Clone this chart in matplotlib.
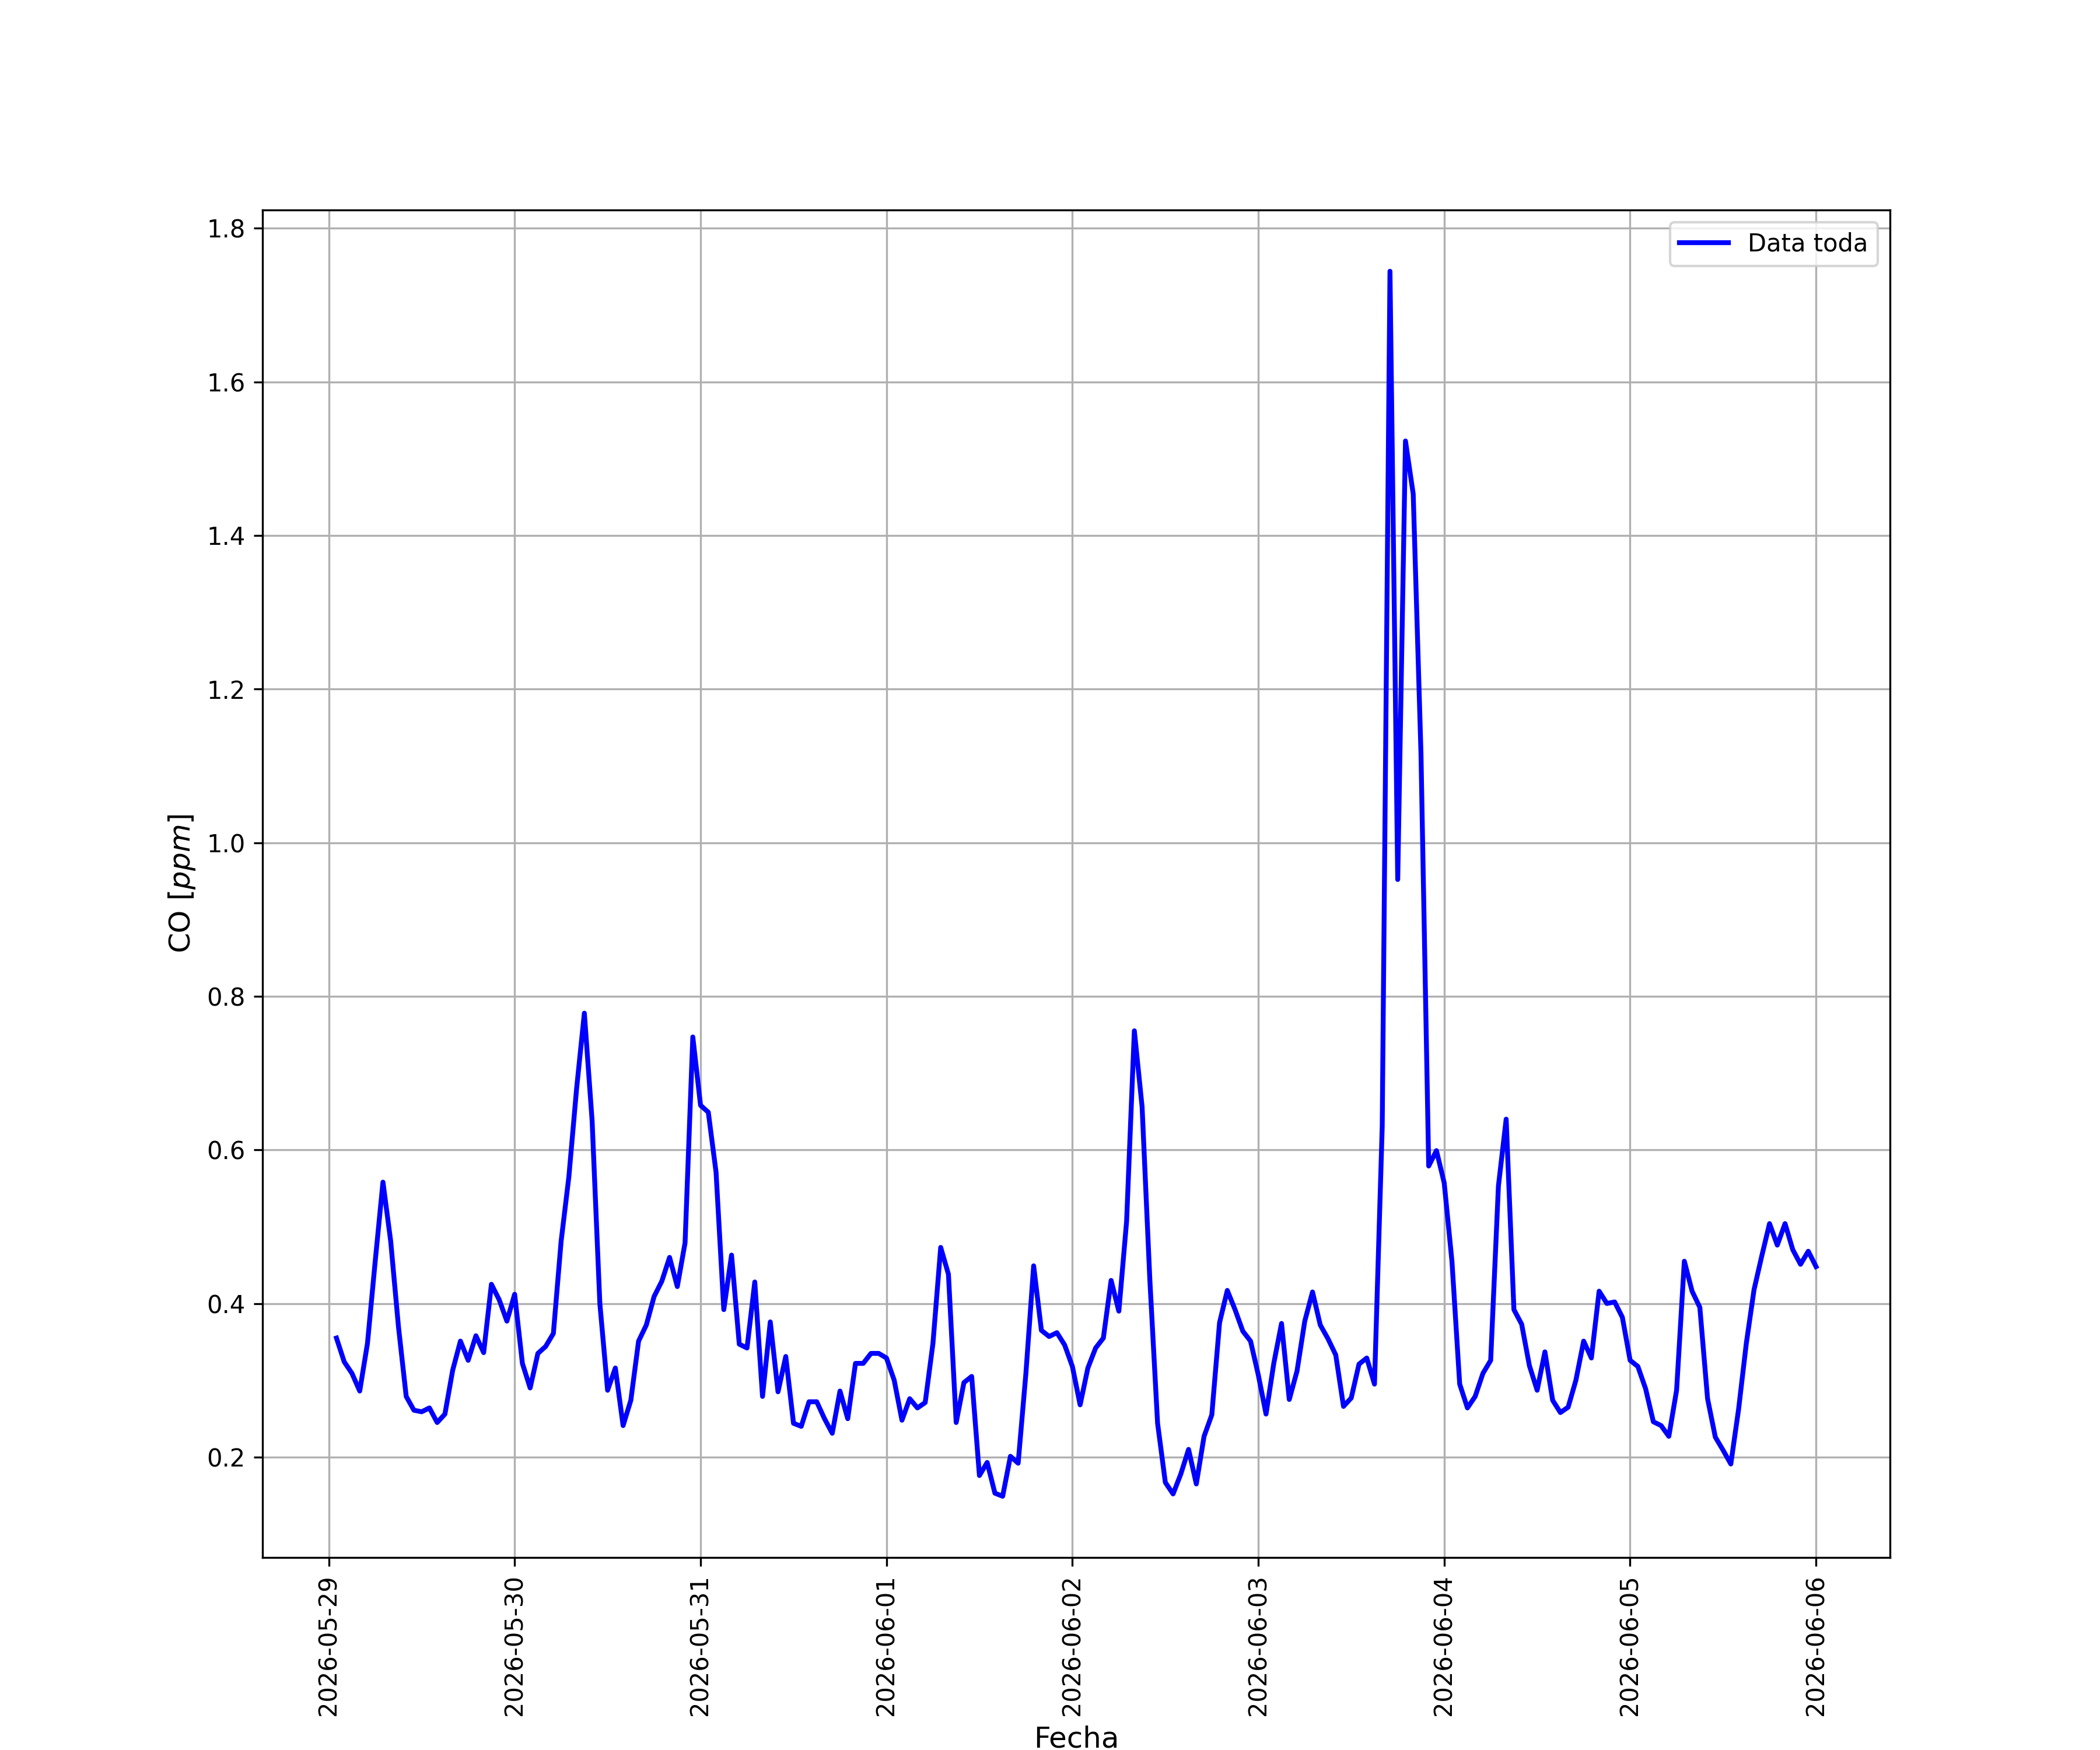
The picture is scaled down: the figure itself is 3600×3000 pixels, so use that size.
import matplotlib
matplotlib.use('Agg')
import matplotlib.pyplot as plt
import matplotlib.dates as mdates
import numpy as np
import pandas as pd

# Datos horarios de CO (ppm)
fechas = pd.date_range('2026-05-29 01:00', periods=192, freq='h')

co = np.array([
    0.355, 0.324, 0.309, 0.286, 0.348, 0.455, 0.558, 0.481, 0.370, 0.279,
    0.261, 0.259, 0.264, 0.245, 0.256, 0.313, 0.351, 0.326, 0.358, 0.336,
    0.425, 0.405, 0.377, 0.412, 0.322, 0.290, 0.335, 0.344, 0.361, 0.481,
    0.565, 0.680, 0.778, 0.638, 0.400, 0.287, 0.316, 0.241, 0.274, 0.351,
    0.372, 0.409, 0.429, 0.460, 0.422, 0.479, 0.747, 0.658, 0.649, 0.571,
    0.392, 0.463, 0.347, 0.342, 0.428, 0.279, 0.376, 0.285, 0.331, 0.244,
    0.240, 0.272, 0.272, 0.250, 0.231, 0.286, 0.250, 0.322, 0.322, 0.335,
    0.335, 0.329, 0.300, 0.248, 0.276, 0.264, 0.271, 0.348, 0.473, 0.438,
    0.245, 0.297, 0.305, 0.176, 0.193, 0.153, 0.149, 0.201, 0.192, 0.309,
    0.449, 0.365, 0.357, 0.362, 0.346, 0.318, 0.268, 0.316, 0.342, 0.355,
    0.430, 0.390, 0.507, 0.755, 0.656, 0.431, 0.244, 0.167, 0.152, 0.178,
    0.210, 0.165, 0.227, 0.255, 0.375, 0.417, 0.392, 0.364, 0.351, 0.307,
    0.256, 0.322, 0.374, 0.275, 0.312, 0.377, 0.415, 0.372, 0.354, 0.333,
    0.266, 0.277, 0.321, 0.329, 0.295, 0.631, 1.744, 0.952, 1.523, 1.454,
    1.117, 0.579, 0.599, 0.557, 0.455, 0.295, 0.264, 0.279, 0.309, 0.326,
    0.553, 0.640, 0.392, 0.373, 0.319, 0.287, 0.337, 0.274, 0.258, 0.265,
    0.300, 0.351, 0.329, 0.416, 0.400, 0.402, 0.382, 0.326, 0.318, 0.289,
    0.246, 0.241, 0.227, 0.287, 0.455, 0.416, 0.395, 0.276, 0.226, 0.209,
    0.191, 0.262, 0.348, 0.418, 0.462, 0.504, 0.476, 0.504, 0.470, 0.451,
    0.468, 0.448,
])

fig = plt.figure(figsize=(12, 10))
ax = fig.add_subplot(111)

ax.plot(fechas, co, color='blue', linewidth=2, label='Data toda')

ax.set_xlabel('Fecha', fontsize=12)
ax.set_ylabel('CO $[ppm]$', fontsize=12)
ax.xaxis.set_major_locator(mdates.DayLocator())
ax.xaxis.set_major_formatter(mdates.DateFormatter('%Y-%m-%d'))
plt.setp(ax.get_xticklabels(), rotation=90)
ax.grid(True)
ax.legend(loc='upper right')

fig.savefig('out.png', dpi=300)
